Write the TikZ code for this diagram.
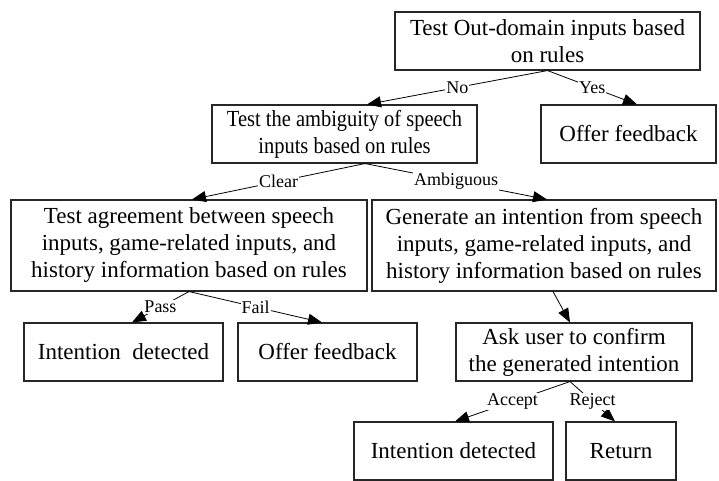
\documentclass[tikz,border=0pt]{standalone}
\usepackage{fontspec}
\setmainfont{Liberation Serif}
\newfontfamily\narrowserif[FakeStretch=0.89]{Liberation Serif}
\usetikzlibrary{arrows.meta,calc}
\begin{document}
\begin{tikzpicture}[x=1pt,y=-1pt,
  box/.style={draw=black!85, line width=1.1pt, rectangle, inner sep=0pt, align=center,
    font=\fontsize{23}{27}\selectfont, minimum height=58pt},
  narrowbox/.style={box, font=\fontsize{23}{27}\narrowserif},
  lbl/.style={fill=white, inner sep=1pt, font=\fontsize{18}{20}\selectfont},
  conn/.style={draw=black, line width=0.8pt, -{Triangle[length=14pt,width=11pt]}}]
\useasboundingbox (0,0) rectangle (719,481);
% boxes
\node[box, minimum width=305pt] (A) at (547.5,41) {Test Out-domain inputs based\\on rules};
\node[narrowbox, minimum width=265pt] (B) at (344.5,134) {Test the ambiguity of speech\\inputs based on rules};
\node[box, minimum width=175pt] (C) at (628.5,134) {Offer feedback};
\node[box, minimum width=356pt, minimum height=91pt] (D) at (189,245.5) {Test agreement between speech\\inputs, game-related inputs, and\\history information based on rules};
\node[box, minimum width=344pt, minimum height=91pt] (E) at (544,245.5) {Generate an intention from speech\\inputs, game-related inputs, and\\history information based on rules};
\node[box, minimum width=199pt] (F) at (123.5,352) {Intention\ \ detected};
\node[box, minimum width=179pt] (G) at (327.5,352) {Offer feedback};
\node[box, minimum width=236pt] (H) at (574,352) {Ask user to confirm\\the generated intention};
\node[box, minimum width=199pt] (I) at (453.5,451) {Intention detected};
\node[box, minimum width=110pt] (J) at (621,451) {Return};
% junction points
\coordinate (bj) at ($(B.south)+(20.5,0)$);
\coordinate (ej) at ($(E.south)+(9,0)$);
\coordinate (hj) at ($(H.south)+(-4,0)$);
% connectors
\draw[conn] (A.south) -- node[lbl]{No} ($(B.north)+(22.5,0)$);
\draw[conn] (A.south) -- node[lbl]{Yes} ($(C.north)+(8.5,0)$);
\draw[conn] (bj) -- node[lbl]{Clear} ($(D.north)+(3,0)$);
\draw[conn] (bj) -- node[lbl]{Ambiguous} ($(E.north)+(3,0)$);
\draw[conn] (D.south) -- node[lbl]{Pass} ($(F.north)+(8.5,0)$);
\draw[conn] (D.south) -- node[lbl]{Fail} ($(G.north)+(-5.5,0)$);
\draw[conn] (ej) -- ($(H.north)+(-4,0)$);
\draw[conn] (hj) -- node[lbl]{Accept} ($(I.north)+(1.5,0)$);
\draw[conn] (hj) -- node[lbl]{Reject} ($(J.north)+(-6,0)$);
\end{tikzpicture}
\end{document}
